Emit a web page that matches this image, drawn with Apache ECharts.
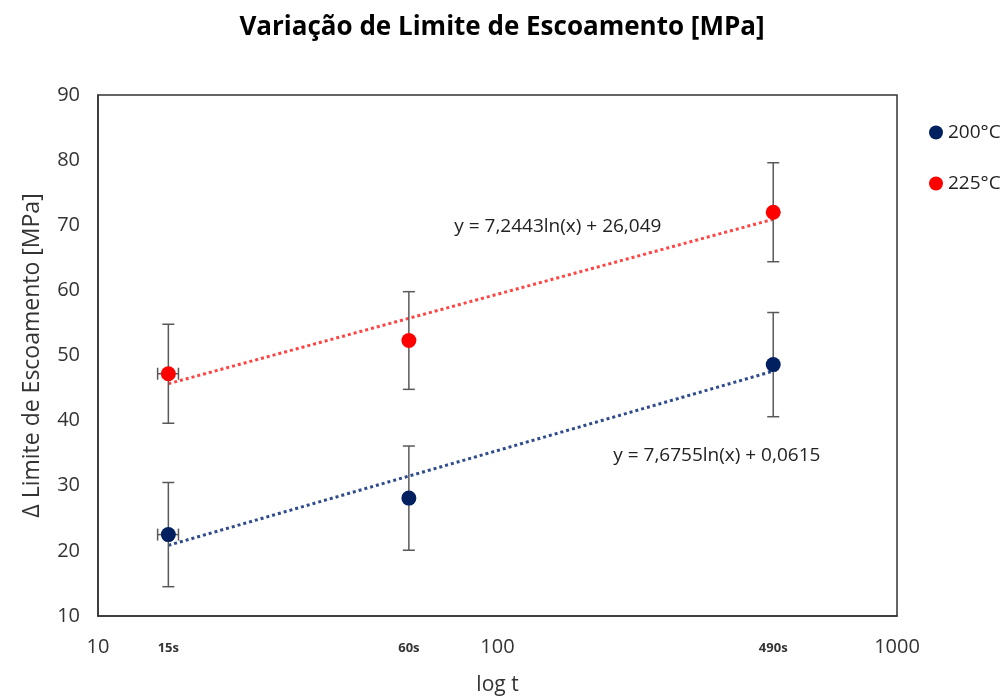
<!DOCTYPE html>
<html>
<head>
<meta charset="utf-8">
<script src="https://cdn.jsdelivr.net/npm/echarts@6.0.0/dist/echarts.min.js"></script>
<style>
  html, body { margin: 0; padding: 0; background: #fff; }
  #chart { width: 1004px; height: 699px; }
</style>
</head>
<body>
<div id="chart"></div>
<script>
// data
const times = [15, 60, 490];                 // seconds
const timeLabels = ['15s', '60s', '490s'];
const y200 = [22.5, 28.1, 48.6];
const y225 = [47.2, 52.3, 72.0];
const err200 = [8.0, 8.0, 8.0];
const err225 = [7.6, 7.5, 7.6];
const xErr = [0.9, 0, 0];
// trendline ends (at 15s and 490s)
const trend200 = [20.85, 47.6];
const trend225 = [45.67, 70.92];
const eq200 = 'y = 7,6755ln(x) + 0,0615';
const eq225 = 'y = 7,2443ln(x) + 26,049';

const FONT = 'Open Sans';
const BLUE = '#002060';
const RED = '#ff0000';

function errData(ys, errs) {
    return times.map((t, i) => [t, ys[i], ys[i] - errs[i], ys[i] + errs[i], t - xErr[i], t + xErr[i]]);
}

function renderErr(params, api) {
    const p = api.coord([api.value(0), api.value(1)]);
    const lo = api.coord([api.value(0), api.value(2)]);
    const hi = api.coord([api.value(0), api.value(3)]);
    const xl = api.coord([api.value(4), api.value(1)]);
    const xr = api.coord([api.value(5), api.value(1)]);
    const cap = 6;
    const style = { stroke: '#595959', lineWidth: 1.5 };
    const children = [
        { type: 'line', shape: { x1: p[0], y1: hi[1], x2: p[0], y2: lo[1] }, style },
        { type: 'line', shape: { x1: p[0] - cap, y1: hi[1], x2: p[0] + cap, y2: hi[1] }, style },
        { type: 'line', shape: { x1: p[0] - cap, y1: lo[1], x2: p[0] + cap, y2: lo[1] }, style }
    ];
    if (xr[0] - xl[0] > 1) {
        children.push(
            { type: 'line', shape: { x1: xl[0], y1: p[1], x2: xr[0], y2: p[1] }, style },
            { type: 'line', shape: { x1: xl[0], y1: p[1] - cap, x2: xl[0], y2: p[1] + cap }, style },
            { type: 'line', shape: { x1: xr[0], y1: p[1] - cap, x2: xr[0], y2: p[1] + cap }, style }
        );
    }
    return { type: 'group', children };
}

const chart = echarts.init(document.getElementById('chart'));
const option = {
    backgroundColor: '#fff',
    animation: false,
    textStyle: { fontFamily: FONT },
    title: {
        text: 'Variação de Limite de Escoamento [MPa]',
        left: 'center',
        top: 10,
        textStyle: { fontFamily: FONT, fontSize: 26, fontWeight: 'bold', color: '#000' }
    },
    legend: {
        orient: 'vertical',
        left: 924,
        top: 118,
        itemGap: 32,
        itemWidth: 14,
        itemHeight: 14,
        icon: 'circle',
        data: ['200°C', '225°C'],
        textStyle: { fontFamily: FONT, fontSize: 19, color: '#222' }
    },
    grid: {
        left: 98, right: 107, top: 95, bottom: 83,
        outerBoundsMode: 'none',
        show: true, borderColor: '#333', borderWidth: 1.5
    },
    xAxis: [{
        type: 'log',
        logBase: 10,
        min: 10,
        max: 1000,
        name: 'log t',
        nameLocation: 'middle',
        nameGap: 59,
        nameTextStyle: { fontFamily: FONT, fontSize: 21, color: '#333' },
        axisLine: { show: true, lineStyle: { color: '#333', width: 1.5 } },
        axisTick: { show: false },
        splitLine: { show: false },
        axisLabel: {
            margin: 21, fontSize: 20, color: '#333', fontFamily: FONT,
            formatter: (v) => String(Math.round(v))
        }
    }, {
        type: 'log',
        logBase: 10,
        min: 10,
        max: 1000,
        position: 'bottom',
        axisLine: { show: false },
        axisTick: { show: false },
        splitLine: { show: false },
        axisLabel: {
            margin: 26,
            customValues: times,
            formatter: (v) => timeLabels[times.indexOf(Math.round(v))] || '',
            fontSize: 13,
            fontWeight: 'bold',
            color: '#333',
            fontFamily: FONT
        }
    }],
    yAxis: {
        type: 'value',
        min: 10,
        max: 90,
        interval: 10,
        name: 'Δ Limite de Escoamento [MPa]',
        nameLocation: 'middle',
        nameGap: 54,
        nameTextStyle: { fontFamily: FONT, fontSize: 23, color: '#333' },
        axisLine: { show: true, lineStyle: { color: '#333', width: 1.5 } },
        axisTick: { show: false },
        splitLine: { show: false },
        axisLabel: { margin: 18, fontSize: 20, color: '#333', fontFamily: FONT }
    },
    series: [
        {
            name: 'trend200',
            type: 'line',
            data: [[times[0], trend200[0]], [times[2], trend200[1]]],
            symbol: 'none',
            lineStyle: { color: '#2f4b8c', width: 3, type: [3, 3] },
            silent: true,
            markPoint: {
                symbol: 'circle', symbolSize: 0,
                data: [{ coord: [354, 34.6], value: eq200 }],
                label: { show: true, formatter: eq200, fontSize: 19, color: '#222', fontFamily: FONT }
            },
            z: 2
        },
        {
            name: 'trend225',
            type: 'line',
            data: [[times[0], trend225[0]], [times[2], trend225[1]]],
            symbol: 'none',
            lineStyle: { color: '#ff4444', width: 3, type: [3, 3] },
            silent: true,
            markPoint: {
                symbol: 'circle', symbolSize: 0,
                data: [{ coord: [141.6, 69.8], value: eq225 }],
                label: { show: true, formatter: eq225, fontSize: 19, color: '#222', fontFamily: FONT }
            },
            z: 2
        },
        {
            name: 'err200',
            type: 'custom',
            renderItem: renderErr,
            data: errData(y200, err200),
            encode: { x: 0, y: 1 },
            z: 3
        },
        {
            name: 'err225',
            type: 'custom',
            renderItem: renderErr,
            data: errData(y225, err225),
            encode: { x: 0, y: 1 },
            z: 3
        },
        {
            name: '200°C',
            type: 'scatter',
            data: times.map((t, i) => [t, y200[i]]),
            symbolSize: 15,
            itemStyle: { color: BLUE, opacity: 1 },
            z: 5
        },
        {
            name: '225°C',
            type: 'scatter',
            data: times.map((t, i) => [t, y225[i]]),
            symbolSize: 15,
            itemStyle: { color: RED, opacity: 1 },
            z: 5
        }
    ]
};
chart.setOption(option);
window.addEventListener('resize', () => chart.resize());
</script>
</body>
</html>
